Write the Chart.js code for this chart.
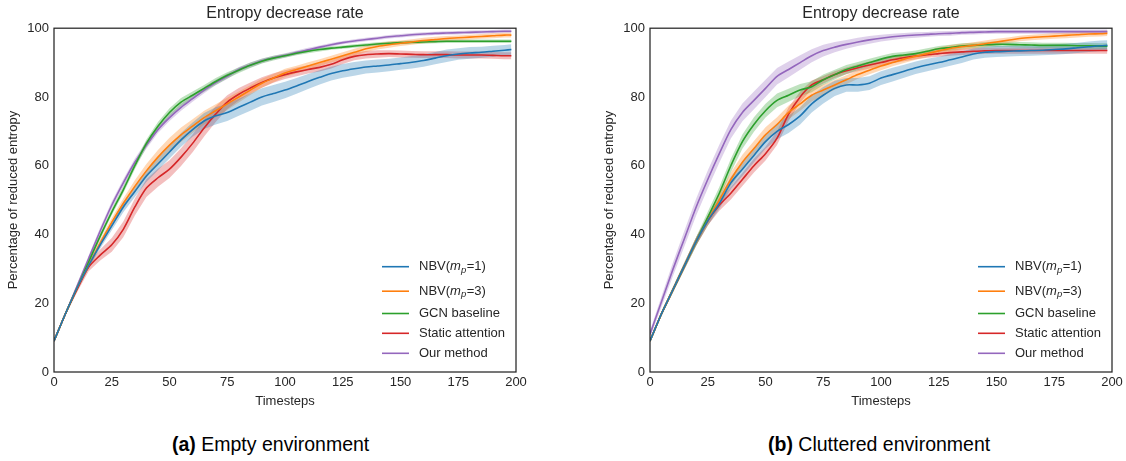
<!DOCTYPE html>
<html>
<head>
<meta charset="utf-8">
<script src="https://cdn.jsdelivr.net/npm/chart.js@4.4.1/dist/chart.umd.min.js"></script>
<style>
  body { margin: 0; background: #fff; width: 1126px; height: 461px; position: relative; overflow: hidden; }
  .panel { position: absolute; top: 0; width: 530px; height: 420px; }
  .caption { position: absolute; top: 433px; font-family: "Liberation Sans Narrow", "Liberation Sans", Arial, sans-serif; font-size: 19.5px; color: #000; white-space: nowrap; }
</style>
</head>
<body>
<div class="panel" style="left:0px"><canvas id="chartEmpty" width="530" height="420"></canvas></div>
<div class="panel" style="left:596px"><canvas id="chartCluttered" width="530" height="420"></canvas></div>
<div class="caption" style="left:172px"><b>(a)</b> Empty environment</div>
<div class="caption" style="left:768px"><b>(b)</b> Cluttered environment</div>

<script>
const timesteps = [0, 5, 10, 15, 20, 25, 30, 35, 40, 45, 50, 55, 60, 65, 70, 75, 80, 85, 90, 95, 100,
    105, 110, 115, 120, 125, 130, 135, 140, 145, 150, 155, 160, 165, 170, 175, 180, 185, 190, 195, 198];
const seriesNames = ['NBV(m_p=1)', 'NBV(m_p=3)', 'GCN baseline', 'Static attention', 'Our method'];
const seriesColors = ['#1f77b4', '#ff7f0e', '#2ca02c', '#d62728', '#9467bd'];
const bandColors = ['rgba(31,119,180,0.3)', 'rgba(255,127,14,0.3)', 'rgba(44,160,44,0.3)', 'rgba(214,39,40,0.3)', 'rgba(148,103,189,0.3)'];
const xTicks = [0, 25, 50, 75, 100, 125, 150, 175, 200];
const yTicks = [0, 20, 40, 60, 80, 100];

// empty environment: mean curves
const emptyNbv1 = [9, 17, 24.5, 31, 37, 42.5, 48, 52.5, 57, 60.5, 64, 67.5, 70.5, 73, 74.5, 75.5, 77, 78.5, 80, 81, 82,
    83.2, 84.5, 85.7, 86.8, 87.6, 88.2, 88.7, 89, 89.3, 89.7, 90.1, 90.6, 91.3, 92, 92.5, 92.8, 93, 93.3, 93.6, 93.8];
const emptyNbv3 = [9, 17, 24.5, 31, 37.5, 43.5, 49, 54, 58.5, 62.5, 66, 69, 71.5, 74, 76, 78, 80, 82, 84, 85.5, 87,
    88, 89, 90, 91, 92, 93, 94, 94.7, 95.2, 95.6, 96, 96.4, 96.7, 97, 97.2, 97.4, 97.6, 97.8, 98, 98];
const emptyGcn = [9, 17, 24.5, 32, 39.5, 46.5, 53, 60, 66.5, 71.5, 75.5, 78.5, 80.5, 82.5, 84.5, 86.3, 87.8, 89.2, 90.4, 91.3, 92,
    92.7, 93.3, 93.8, 94.2, 94.5, 94.8, 95.1, 95.4, 95.6, 95.8, 95.9, 96, 96.1, 96.2, 96.2, 96.2, 96.2, 96.2, 96.2, 96.2];
const emptyStatic = [9, 17, 24, 30.5, 34, 37, 41.5, 48, 53.5, 56.5, 59, 62.5, 66.5, 71, 75, 78.5, 80.8, 82.6, 84.2, 85.5, 86.5,
    87.3, 88, 88.6, 89.5, 90.8, 91.8, 92.3, 92.5, 92.6, 92.5, 92.4, 92.3, 92.3, 92.3, 92.2, 92.2, 92.2, 92.1, 92, 92];
const emptyOurs = [9, 17, 25, 33, 41, 48.5, 55, 61, 66, 70.5, 74, 77, 79.5, 82, 84.2, 86, 88, 89.3, 90.5, 91.4, 92.1,
    92.9, 93.7, 94.5, 95.2, 95.8, 96.3, 96.7, 97.1, 97.5, 97.8, 98.1, 98.3, 98.5, 98.6, 98.7, 98.8, 98.9, 99, 99.1, 99.1];

// empty environment: half-width of the shaded bands
const emptyNbv1Spread = [0.3, 0.5, 0.7, 0.9, 1.1, 1.3, 1.5, 1.6, 1.7, 1.8, 1.9, 2, 2.1, 2.3, 2.5, 2.5, 2.5, 2.5, 2.5, 2.5, 2.4,
    2.3, 2.2, 2.1, 2, 2, 2, 1.9, 1.9, 1.8, 1.8, 1.8, 1.8, 1.8, 1.8, 1.7, 1.7, 1.6, 1.6, 1.5, 1.5];
const emptyNbv3Spread = [0.3, 0.5, 0.7, 0.9, 1.1, 1.3, 1.5, 1.8, 2, 2.1, 2.1, 2.1, 2, 2, 1.9, 1.8, 1.6, 1.4, 1.3, 1.2, 1.2,
    1.1, 1.1, 1, 1, 1, 1, 0.9, 0.9, 0.9, 0.8, 0.8, 0.8, 0.8, 0.7, 0.7, 0.7, 0.7, 0.7, 0.7, 0.7];
const emptyGcnSpread = [0.3, 0.5, 0.6, 0.7, 0.8, 0.9, 1, 1, 1.1, 1.2, 1.2, 1.2, 1.1, 1, 1, 0.9, 0.8, 0.8, 0.7, 0.7, 0.6,
    0.6, 0.6, 0.6, 0.5, 0.5, 0.5, 0.5, 0.5, 0.5, 0.5, 0.5, 0.5, 0.5, 0.5, 0.5, 0.5, 0.5, 0.5, 0.5, 0.5];
const emptyStaticSpread = [0.3, 0.5, 0.8, 1.2, 1.6, 2, 2.3, 2.5, 2.6, 2.6, 2.6, 2.6, 2.6, 2.5, 2.3, 2, 1.8, 1.6, 1.5, 1.4, 1.3,
    1.3, 1.2, 1.2, 1.2, 1.2, 1.1, 1.1, 1.1, 1, 1, 1, 1, 1, 1, 1, 1, 1, 1, 1, 1];
const emptyOursSpread = [0.3, 0.5, 0.7, 0.9, 1, 1.1, 1.1, 1.1, 1.1, 1, 1, 1, 0.9, 0.9, 0.8, 0.8, 0.7, 0.7, 0.7, 0.6, 0.6,
    0.6, 0.6, 0.5, 0.5, 0.5, 0.5, 0.5, 0.5, 0.5, 0.5, 0.5, 0.5, 0.5, 0.5, 0.5, 0.5, 0.5, 0.5, 0.5, 0.5];

// cluttered environment: mean curves
const clutNbv1 = [9, 17, 24, 31, 38, 44, 49, 55, 59, 63, 67, 70, 72, 74.5, 78, 80.5, 82.5, 83.5, 83.5, 84, 85.5,
    86.5, 87.5, 88.5, 89.3, 90, 90.8, 91.6, 92.5, 93, 93.2, 93.3, 93.4, 93.5, 93.6, 93.8, 94, 94.3, 94.6, 94.9, 95];
const clutNbv3 = [9, 17, 24, 31, 38, 44, 50, 56, 61, 65, 69, 72, 75.5, 78, 80.5, 82, 83.5, 85, 86.5, 87.8, 89,
    90, 91, 91.8, 92.6, 93.4, 94.1, 94.6, 95, 95.5, 96, 96.5, 97, 97.3, 97.5, 97.7, 97.9, 98.1, 98.3, 98.4, 98.5];
const clutGcn = [9, 17, 24, 31, 38, 45, 52, 60, 67, 72, 76, 79, 80.5, 82, 83, 85, 86.5, 88, 89, 90, 91,
    91.8, 92.2, 92.6, 93.3, 94, 94.4, 94.8, 95, 95.2, 95.3, 95.3, 95.2, 95.1, 95, 95, 95, 94.9, 94.9, 94.8, 94.8];
const clutStatic = [9, 17, 24, 31, 38, 44, 48.5, 52, 56, 60, 63.5, 68, 75, 80, 83.5, 85, 86.5, 87.6, 88.5, 89.3, 90,
    90.8, 91.4, 91.9, 92.3, 92.6, 92.9, 93.1, 93.3, 93.4, 93.5, 93.5, 93.5, 93.5, 93.5, 93.5, 93.5, 93.5, 93.5, 93.5, 93.5];
const clutOurs = [11, 20.5, 30, 39, 48, 56, 63.5, 70.5, 75.5, 79, 82.5, 86, 88, 90, 92, 93.5, 94.5, 95.3, 96, 96.6, 97.1,
    97.5, 97.8, 98, 98.2, 98.4, 98.5, 98.7, 98.8, 98.9, 99, 99, 99, 99, 99, 99, 99, 99, 99, 99, 99];

// cluttered environment: half-width of the shaded bands
const clutNbv1Spread = [0.3, 0.6, 0.8, 1, 1.2, 1.4, 1.6, 1.8, 2, 2, 2.1, 2.3, 2.5, 2.5, 2.5, 2.4, 2.2, 2, 2, 2, 2,
    2, 1.9, 1.8, 1.8, 1.7, 1.7, 1.7, 1.6, 1.6, 1.6, 1.5, 1.5, 1.5, 1.5, 1.5, 1.5, 1.5, 1.5, 1.5, 1.5];
const clutNbv3Spread = [0.3, 0.6, 0.8, 1, 1.2, 1.5, 1.8, 2, 2.2, 2.2, 2.2, 2.1, 2, 2, 1.8, 1.6, 1.4, 1.3, 1.2, 1.2, 1.2,
    1.1, 1.1, 1, 1, 1, 1, 0.9, 0.9, 0.9, 0.9, 0.8, 0.8, 0.8, 0.8, 0.8, 0.8, 0.8, 0.8, 0.8, 0.8];
const clutGcnSpread = [0.3, 0.6, 0.8, 1, 1.3, 1.6, 1.8, 2, 2.1, 2.1, 2, 2, 1.9, 1.8, 1.6, 1.5, 1.4, 1.3, 1.2, 1.1, 1,
    1, 0.9, 0.9, 0.9, 0.8, 0.8, 0.8, 0.8, 0.8, 0.8, 0.8, 0.8, 0.8, 0.8, 0.8, 0.8, 0.8, 0.8, 0.8, 0.8];
const clutStaticSpread = [0.3, 0.6, 0.8, 1, 1.2, 1.4, 1.6, 1.8, 1.9, 2, 2, 2, 2, 1.6, 1.3, 1.1, 1, 1, 1, 1, 1,
    1, 1, 0.9, 0.9, 0.9, 0.9, 0.9, 0.9, 0.9, 0.9, 0.9, 0.9, 0.9, 0.9, 0.9, 0.9, 0.9, 0.9, 0.9, 0.9];
const clutOursSpread = [1, 1.5, 2, 2.3, 2.5, 2.6, 2.6, 2.6, 2.6, 2.6, 2.5, 2.4, 2.3, 2.1, 1.9, 1.7, 1.5, 1.3, 1.2, 1.1, 1,
    0.9, 0.8, 0.8, 0.7, 0.7, 0.7, 0.6, 0.6, 0.6, 0.6, 0.6, 0.6, 0.6, 0.6, 0.6, 0.6, 0.6, 0.6, 0.6, 0.6];

const textColor = '#262626';
const fontFamily = '"Liberation Sans", Arial, sans-serif';
Chart.defaults.font.family = fontFamily;
Chart.defaults.color = textColor;

// each series gets an upper band, a lower band and the mean line on top
function buildDatasets(means, spreads) {
    let datasets = [];
    means.forEach((mean, i) => {
        datasets.push({
            data: timesteps.map((t, k) => ({x: t, y: mean[k] + spreads[i][k]})),
            borderWidth: 0,
            pointRadius: 0,
            backgroundColor: bandColors[i],
            fill: '+1',
            order: 1,
            isBand: true
        });
        datasets.push({
            data: timesteps.map((t, k) => ({x: t, y: mean[k] - spreads[i][k]})),
            borderWidth: 0,
            pointRadius: 0,
            fill: false,
            order: 1,
            isBand: true
        });
        datasets.push({
            label: seriesNames[i],
            data: timesteps.map((t, k) => ({x: t, y: mean[k]})),
            borderColor: seriesColors[i],
            borderWidth: 1.6,
            pointRadius: 0,
            fill: false,
            tension: 0.3,
            order: 0
        });
    });
    return datasets;
}

// dark frame round the plot area
const axesBox = {
    id: 'axesBox',
    afterDraw(chart) {
        const a = chart.chartArea;
        const ctx = chart.ctx;
        ctx.save();
        ctx.strokeStyle = textColor;
        ctx.lineWidth = 1.25;
        ctx.strokeRect(a.left, a.top, a.right - a.left, a.bottom - a.top);
        ctx.restore();
    }
};

// legend in the lower right corner, with m_p written as italic m and subscript p
const mathLegend = {
    id: 'mathLegend',
    afterDraw(chart) {
        const a = chart.chartArea;
        const ctx = chart.ctx;
        const rows = [105.3, 80.8, 58.5, 38.7, 18.7];
        const lines = chart.data.datasets.filter(d => !d.isBand);
        ctx.save();
        ctx.textBaseline = 'middle';
        ctx.fillStyle = textColor;
        lines.forEach((d, i) => {
            const y = a.bottom - rows[i];
            ctx.strokeStyle = d.borderColor;
            ctx.lineWidth = 1.6;
            ctx.beginPath();
            ctx.moveTo(a.right - 134, y);
            ctx.lineTo(a.right - 107, y);
            ctx.stroke();

            let x = a.right - 97;
            const parts = d.label.split('m_p');
            ctx.font = '13px ' + fontFamily;
            ctx.fillText(parts[0], x, y);
            x += ctx.measureText(parts[0]).width;
            if (parts.length > 1) {
                ctx.font = 'italic 13px ' + fontFamily;
                ctx.fillText('m', x, y);
                x += ctx.measureText('m').width;
                ctx.font = 'italic 9.5px ' + fontFamily;
                ctx.fillText('p', x, y + 3.5);
                x += ctx.measureText('p').width + 0.5;
                ctx.font = '13px ' + fontFamily;
                ctx.fillText(parts[1], x, y);
            }
        });
        ctx.restore();
    }
};

function makeChart(canvasId, means, spreads) {
    const ctx = document.getElementById(canvasId).getContext('2d');
    return new Chart(ctx, {
        type: 'line',
        data: { datasets: buildDatasets(means, spreads) },
        options: {
            responsive: false,
            animation: false,
            layout: { padding: { left: 0, right: 14, top: 0, bottom: 0 } },
            plugins: {
                legend: { display: false },
                tooltip: { enabled: false },
                title: {
                    display: true,
                    fullSize: false,
                    text: 'Entropy decrease rate',
                    color: textColor,
                    font: { size: 16, weight: 'normal' },
                    padding: { top: 4, bottom: 5 }
                }
            },
            scales: {
                x: {
                    type: 'linear',
                    min: 0,
                    max: 200,
                    afterFit(scale) { scale.height = 48; },
                    afterBuildTicks(scale) { scale.ticks = xTicks.map(v => ({value: v})); },
                    grid: { display: false, drawTicks: false },
                    border: { display: false },
                    ticks: { padding: 3, font: { size: 13 }, color: textColor, maxRotation: 0 },
                    title: { display: true, text: 'Timesteps', font: { size: 13 }, color: textColor, padding: { top: 0, bottom: 11 } }
                },
                y: {
                    min: 0,
                    max: 100,
                    afterFit(scale) { scale.width = 54; },
                    afterBuildTicks(scale) { scale.ticks = yTicks.map(v => ({value: v})); },
                    grid: { display: false, drawTicks: false },
                    border: { display: false },
                    ticks: { padding: 5, font: { size: 13 }, color: textColor },
                    title: { display: true, text: 'Percentage of reduced entropy', font: { size: 13 }, color: textColor, padding: { top: 6, bottom: 0 } }
                }
            }
        },
        plugins: [axesBox, mathLegend]
    });
}

makeChart('chartEmpty',
    [emptyNbv1, emptyNbv3, emptyGcn, emptyStatic, emptyOurs],
    [emptyNbv1Spread, emptyNbv3Spread, emptyGcnSpread, emptyStaticSpread, emptyOursSpread]);
makeChart('chartCluttered',
    [clutNbv1, clutNbv3, clutGcn, clutStatic, clutOurs],
    [clutNbv1Spread, clutNbv3Spread, clutGcnSpread, clutStaticSpread, clutOursSpread]);
</script>
</body>
</html>
